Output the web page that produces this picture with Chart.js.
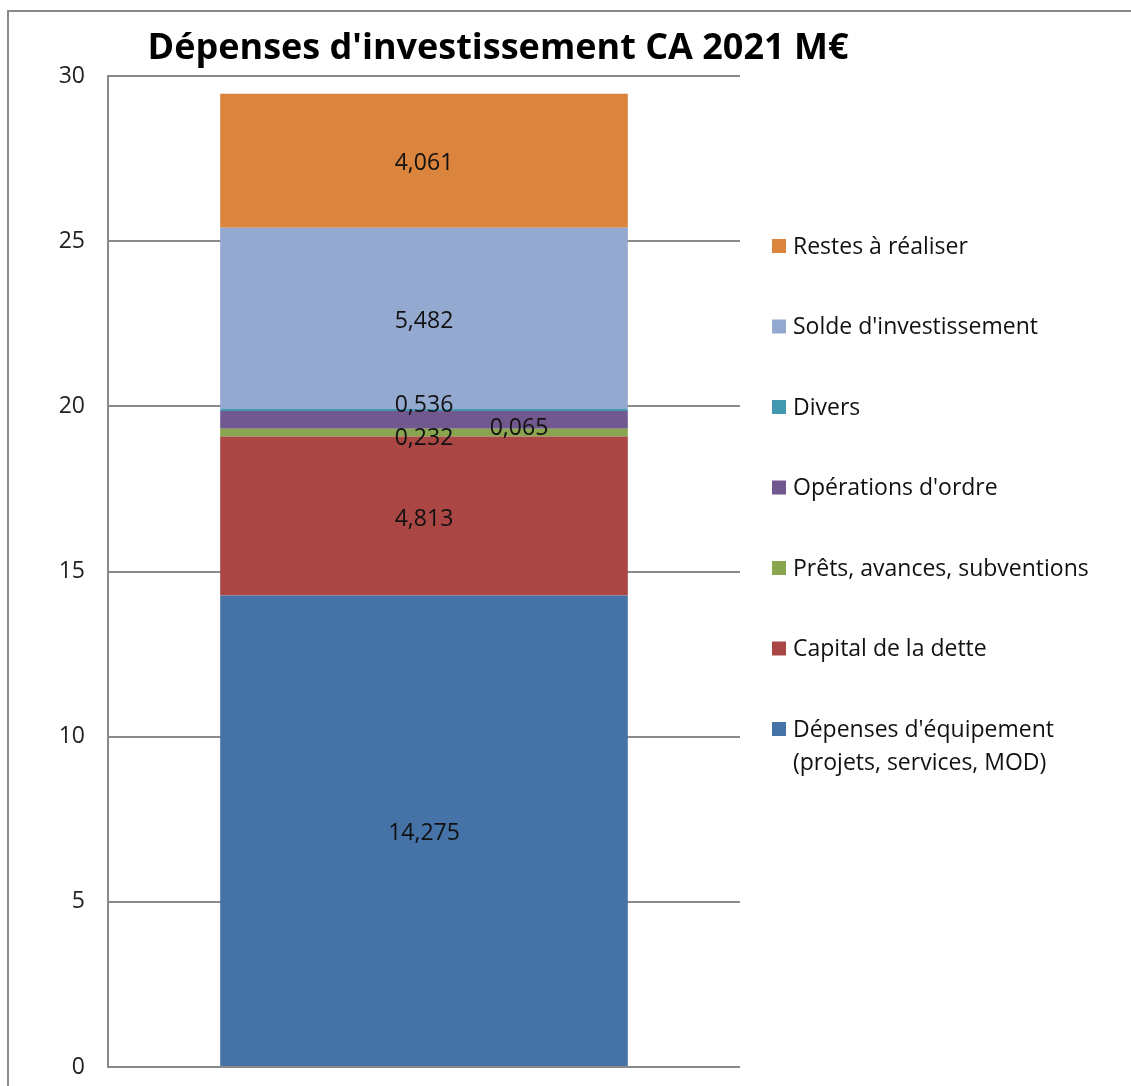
<!DOCTYPE html>
<html>
<head>
<meta charset="utf-8">
<script src="https://cdn.jsdelivr.net/npm/chart.js@4.4.1/dist/chart.umd.min.js"></script>
<style>
html,body{margin:0;padding:0;background:#fff;overflow:hidden;}
#frame{position:absolute;left:7px;top:10px;width:1300px;height:1200px;border:2px solid #8a8a8a;}
#wrap{position:absolute;left:0;top:0;width:1131px;height:1086px;}
</style>
</head>
<body>
<div id="frame"></div>
<div id="wrap"><canvas id="myChart" width="1131" height="1086"></canvas></div>
<script>
var category = ['CA 2021'];
var series = ['Dépenses d\'équipement\n(projets, services, MOD)', 'Capital de la dette', 'Prêts, avances, subventions', 'Opérations d\'ordre', 'Divers', 'Solde d\'investissement', 'Restes à réaliser'];
var values = [14.275, 4.813, 0.232, 0.536, 0.065, 5.482, 4.061];
var yTicks = [0, 5, 10, 15, 20, 25, 30];
var colors = ['#4572A7', '#AA4643', '#89A54E', '#71588F', '#4198AF', '#93A9CF', '#DB843D'];
// label nudges (px) for the thin slices, like in the original sheet
var labelShift = [[0,0],[0,0],[0,3],[0,-17],[95,15],[0,0],[0,0]];

var FONT = '"Open Sans", "Noto Sans", sans-serif';

var datasets = [];
for (var i = 0; i < series.length; i++) {
	datasets.push({
		label: series[i],
		data: [values[i]],
		backgroundColor: colors[i],
		borderWidth: 0,
		barPercentage: 0.645,
		categoryPercentage: 1
	});
}

var extras = {
	id: 'extras',
	afterDatasetsDraw: function(chart) {
		var ctx = chart.ctx;
		ctx.save();
		// values in the bar
		ctx.font = '23px ' + FONT;
		ctx.fillStyle = '#111';
		ctx.textAlign = 'center';
		ctx.textBaseline = 'middle';
		chart.data.datasets.forEach(function(ds, i) {
			var el = chart.getDatasetMeta(i).data[0];
			var c = el.getCenterPoint();
			var txt = ds.data[0].toFixed(3).replace('.', ',');
			ctx.fillText(txt, c.x + labelShift[i][0], c.y + 3 + labelShift[i][1]);
		});
		// title
		ctx.font = 'bold 36px ' + FONT;
		ctx.fillStyle = '#000';
		ctx.fillText('Dépenses d\'investissement CA 2021 M€', 498, 49);
		// legend, last series on top
		ctx.font = '23px ' + FONT;
		ctx.textAlign = 'left';
		var y = 246;
		for (var k = chart.data.datasets.length - 1; k >= 0; k--) {
			var ds = chart.data.datasets[k];
			ctx.fillStyle = ds.backgroundColor;
			ctx.fillRect(772, y - 7, 14, 14);
			ctx.fillStyle = '#111';
			var lines = ds.label.split('\n');
			for (var l = 0; l < lines.length; l++) {
				ctx.fillText(lines[l], 793, y + 1 + l * 33);
			}
			y += 80.5;
		}
		ctx.restore();
	}
};

var ctx = document.getElementById('myChart');
var myChart = new Chart(ctx, {
	type: 'bar',
	data: { labels: category, datasets: datasets },
	options: {
		responsive: false,
		animation: false,
		layout: { padding: { left: 0, right: 391, top: 76, bottom: 19 } },
		plugins: { legend: { display: false }, tooltip: { enabled: false } },
		scales: {
			x: {
				stacked: true,
				display: false
			},
			y: {
				stacked: true,
				min: 0,
				max: 30,
				afterBuildTicks: function(s) { s.ticks = yTicks.map(function(v){ return {value: v}; }); },
				afterFit: function(s) { s.width = 108; s.paddingTop = 0; s.paddingBottom = 0; },
				grid: { color: '#8a8a8a', lineWidth: 2, drawTicks: false },
				border: { color: '#8a8a8a', width: 2 },
				ticks: { padding: 23, color: '#222', font: { family: FONT, size: 23 } }
			}
		}
	},
	plugins: [extras]
});
</script>
</body>
</html>
